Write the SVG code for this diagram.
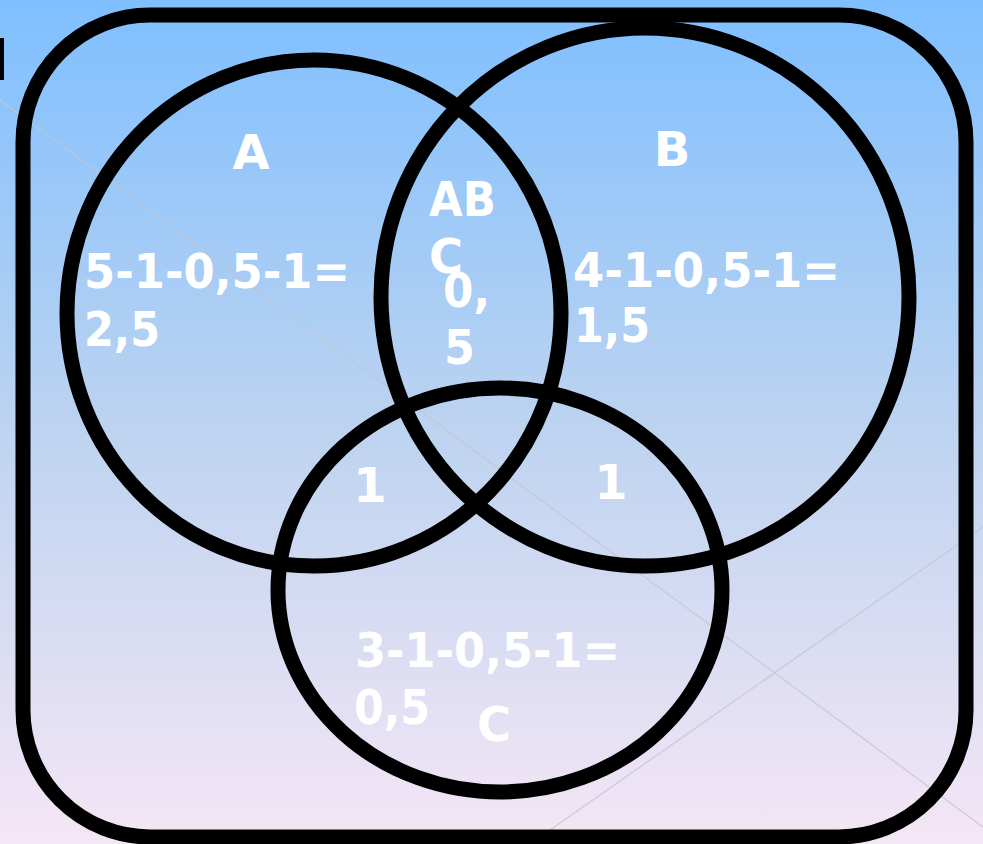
<svg xmlns="http://www.w3.org/2000/svg" width="983" height="844" viewBox="0 0 983 844">
<defs>
<linearGradient id="bg" x1="0" y1="0" x2="0" y2="1">
<stop offset="0" stop-color="#7FBFFF"/>
<stop offset="0.5" stop-color="#BCD3F0"/>
<stop offset="1" stop-color="#F5E6F5"/>
</linearGradient>
</defs>
<style>
.ring{fill:none;stroke:#000;stroke-width:15}
.faint{stroke:#C4C6D0;stroke-width:1.3;fill:none;opacity:0.8}
.t{font-family:"DejaVu Sans",Verdana,sans-serif;font-weight:bold;font-size:48px;fill:#FFFFFF}
</style>
<rect x="0" y="0" width="983" height="844" fill="url(#bg)"/>
<line class="faint" x1="0" y1="100" x2="983" y2="827"/>
<line class="faint" x1="530" y1="844" x2="983" y2="527"/>
<rect x="0" y="38" width="4" height="42" fill="#000"/>
<g id="frame"><rect class="ring" x="23" y="15" width="943" height="822" rx="127" ry="127"/></g>
<g id="circleA"><ellipse class="ring" cx="314" cy="313" rx="247" ry="253"/></g>
<g id="circleB"><ellipse class="ring" cx="645" cy="297" rx="264" ry="269"/></g>
<g id="circleC"><ellipse class="ring" cx="500" cy="590" rx="222" ry="202"/></g>
<g id="connectors"></g>
<g id="labels">
<text class="t" x="251" y="169" text-anchor="middle">A</text>
<text class="t" x="672" y="166" text-anchor="middle">B</text>
<text class="t" x="429" y="216" textLength="67" lengthAdjust="spacingAndGlyphs">AB</text>
<text class="t" x="429" y="273" textLength="34" lengthAdjust="spacingAndGlyphs">C</text>
<text class="t" x="443" y="307" textLength="47" lengthAdjust="spacingAndGlyphs">0,</text>
<text class="t" x="444" y="364" textLength="31" lengthAdjust="spacingAndGlyphs">5</text>
<text class="t" x="84" y="288" textLength="266" lengthAdjust="spacingAndGlyphs">5-1-0,5-1=</text>
<text class="t" x="84" y="346" textLength="76" lengthAdjust="spacingAndGlyphs">2,5</text>
<text class="t" x="573" y="287" textLength="267" lengthAdjust="spacingAndGlyphs">4-1-0,5-1=</text>
<text class="t" x="574" y="342" textLength="76" lengthAdjust="spacingAndGlyphs">1,5</text>
<text class="t" x="370" y="502" text-anchor="middle">1</text>
<text class="t" x="611" y="499" text-anchor="middle">1</text>
<text class="t" x="355" y="667" textLength="265" lengthAdjust="spacingAndGlyphs">3-1-0,5-1=</text>
<text class="t" x="354" y="724" textLength="76" lengthAdjust="spacingAndGlyphs">0,5</text>
<text class="t" x="494" y="741" text-anchor="middle" textLength="34" lengthAdjust="spacingAndGlyphs">C</text>
</g>
</svg>
